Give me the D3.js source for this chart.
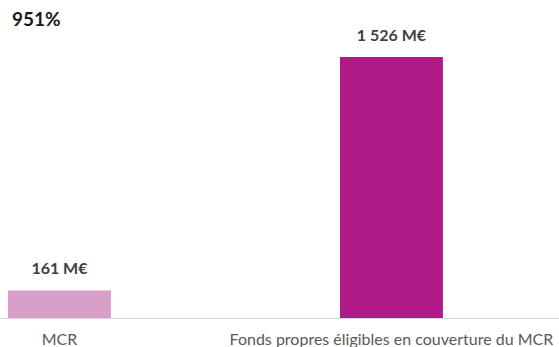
<!DOCTYPE html>
<html><head><meta charset="utf-8">
<script src="https://cdn.jsdelivr.net/npm/d3@7"></script>
<style>body{margin:0;background:#fff}svg{display:block}</style>
</head><body>
<svg id="c" width="559" height="347"></svg>
<script>
const categories = ["MCR", "Fonds propres éligibles en couverture du MCR"];
const values = [161, 1526];
const valueLabels = ["161 M€", "1 526 M€"];
const colors = ["#D99FC9", "#B01A87"];
const ratioLabel = "951%";

const svg = d3.select("#c");
const font = "Lato, 'Open Sans', sans-serif";
const x = d3.scaleBand().domain(categories).range([-25.2, 476.1]).paddingInner(0.69).paddingOuter(0.1);
const y = d3.scaleLinear().domain([0, 1526]).range([318, 57]);

svg.selectAll("rect.bar").data(values).enter().append("rect")
  .attr("x", (d,i)=>x(categories[i])).attr("width", x.bandwidth())
  .attr("y", d=>y(d)).attr("height", d=>y(0)-y(d))
  .attr("fill", (d,i)=>colors[i]);

svg.append("line").attr("x1",0).attr("x2",559).attr("y1",318.5).attr("y2",318.5)
  .attr("stroke","#d9d9d9").attr("stroke-width",1);

svg.selectAll("text.val").data(values).enter().append("text")
  .attr("x",(d,i)=>x(categories[i])+x.bandwidth()/2).attr("y", d=>y(d)-16)
  .attr("text-anchor","middle").attr("font-family",font).attr("font-weight","bold")
  .attr("font-size",16).attr("fill","#404040").text((d,i)=>valueLabels[i]);

svg.selectAll("text.cat").data(categories).enter().append("text")
  .attr("x",d=>x(d)+x.bandwidth()/2).attr("y",345)
  .attr("text-anchor","middle").attr("font-family",font)
  .attr("font-size",16).attr("fill","#595959").text(d=>d);

svg.append("text").attr("x",12).attr("y",26).attr("font-family",font).attr("font-weight","bold")
  .attr("font-size",19).attr("fill","#1a1a1a").text(ratioLabel);
</script>
</body></html>
